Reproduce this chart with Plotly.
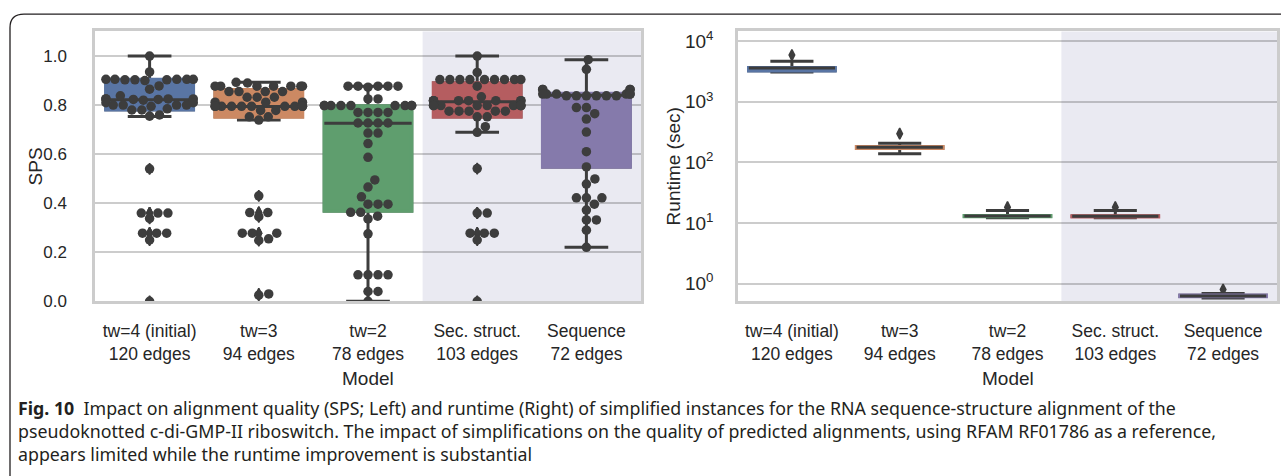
import numpy as np
import plotly.graph_objects as go

W, H = 1281, 476

# -------------------
# Data
# -------------------
models = ["tw=4 (initial)<br>120 edges", "tw=3<br>94 edges", "tw=2<br>78 edges",
          "Sec. struct.<br>103 edges", "Sequence<br>72 edges"]
box_colors = ["#5975a4", "#cc8963", "#5f9e6e", "#b55d60", "#857aab"]

sps_tw4 = [1.0, 0.935, 0.905, 0.905, 0.905, 0.905, 0.905, 0.903, 0.903, 0.903, 0.9,
           0.878, 0.865, 0.838, 0.825, 0.825, 0.825, 0.825, 0.823, 0.823, 0.82,
           0.81, 0.81, 0.80, 0.80, 0.80, 0.80, 0.795, 0.785, 0.78, 0.78, 0.76, 0.755,
           0.54, 0.36, 0.36, 0.36, 0.338, 0.278, 0.278, 0.278, 0.25, 0.0]
sps_tw3 = [0.893, 0.89, 0.877, 0.877, 0.877, 0.877, 0.877, 0.877, 0.877,
           0.855, 0.855, 0.855, 0.855, 0.832, 0.832, 0.832, 0.812, 0.812, 0.812,
           0.795, 0.795, 0.795, 0.795, 0.795, 0.795, 0.795, 0.795, 0.795, 0.795,
           0.778, 0.778, 0.752, 0.752, 0.739,
           0.43, 0.362, 0.362, 0.345, 0.278, 0.278, 0.278, 0.255, 0.248, 0.03, 0.025]
sps_tw2 = [0.877, 0.877, 0.877, 0.877, 0.877, 0.873, 0.825, 0.825,
           0.798, 0.798, 0.798, 0.798, 0.798, 0.798, 0.798, 0.798, 0.798,
           0.77, 0.77, 0.77, 0.77, 0.727, 0.727, 0.727, 0.727, 0.686, 0.686,
           0.643, 0.587, 0.495, 0.466, 0.426, 0.396, 0.396, 0.396, 0.363, 0.363,
           0.347, 0.336, 0.275, 0.108, 0.108, 0.108, 0.108, 0.04, 0.04, 0.0]
sps_sec = [1.0, 0.933, 0.904, 0.904, 0.904, 0.904, 0.904, 0.904, 0.904, 0.904, 0.904,
           0.877, 0.834, 0.818, 0.818, 0.818, 0.818, 0.818, 0.818, 0.818, 0.818,
           0.798, 0.798, 0.798, 0.798, 0.798, 0.798, 0.798, 0.798, 0.798,
           0.775, 0.775, 0.775, 0.775, 0.775, 0.752, 0.752, 0.712, 0.689,
           0.541, 0.36, 0.36, 0.278, 0.278, 0.278, 0.25, 0.0]
sps_seq = [0.985, 0.946, 0.864, 0.864, 0.864, 0.864,
           0.845, 0.845, 0.845, 0.845, 0.845, 0.845, 0.838, 0.838, 0.838, 0.838, 0.838, 0.838,
           0.79, 0.79, 0.765, 0.743, 0.69, 0.61, 0.548, 0.499, 0.478,
           0.422, 0.422, 0.422, 0.396, 0.372, 0.332, 0.332, 0.29, 0.22]
sps_values = [sps_tw4, sps_tw3, sps_tw2, sps_sec, sps_seq]

# box statistics as drawn (seaborn, whis=1.5)
sps_q1 = [0.781, 0.752, 0.368, 0.752, 0.548]
sps_median = [0.822, 0.794, 0.726, 0.814, 0.840]
sps_q3 = [0.904, 0.862, 0.796, 0.890, 0.847]
sps_lowfence = [0.753, 0.739, 0.0, 0.689, 0.22]
sps_highfence = [1.0, 0.893, 0.877, 1.0, 0.985]

rt_q1 = [3250, 172, 12.9, 12.8, 0.615]
rt_median = [3600, 178, 13.1, 13.0, 0.63]
rt_q3 = [3650, 181, 13.2, 13.1, 0.645]
rt_lowfence = [3100, 139, 12.2, 12.2, 0.58]
rt_highfence = [4650, 207, 16.2, 16.2, 0.69]
rt_outliers = [5900, 299, 18.3, 18.3, 0.80]

log_ticks = [1, 10, 100, 1000, 10000]
log_ticktext = ["10<sup>0</sup>", "10<sup>1</sup>", "10<sup>2</sup>",
                "10<sup>3</sup>", "10<sup>4</sup>"]

caption = ("<b>Fig. 10</b>&nbsp;&nbsp;Impact on alignment quality (SPS; Left) and runtime (Right) of simplified "
           "instances for the RNA sequence-structure alignment of the<br>pseudoknotted c-di-GMP-II "
           "riboswitch. The impact of simplifications on the quality of predicted alignments, using "
           "RFAM RF01786 as a reference,<br>appears limited while the runtime improvement is substantial")

# -------------------
# Geometry (pixels)
# -------------------
L_X0, L_X1 = 95, 641
R_X0, R_X1 = 738, 1277
P_TOP, P_BOT = 29.3, 306.7
SPS_RANGE = [0, 1.1]
RT_RANGE = [-0.29, 4.16]

DARK = "#3d3d3d"
GRID = "rgba(0,0,0,0.2)"
FRAME = "#cccccc"
SHADE = "#eaeaf2"
FONT = "Liberation Sans, Arial, sans-serif"


def beeswarm(values, px_x, px_y, d=10.0, half_width=0.4):
    vals = np.asarray(values, float)
    order = np.argsort(vals, kind="stable")
    placed = []
    offs = np.zeros(len(vals))
    for i in order:
        y = vals[i] * px_y
        near = [(px, py) for px, py in placed if abs(py - y) < d]
        cands = [0.0]
        for px, py in near:
            dx = np.sqrt(d * d - (py - y) ** 2)
            cands += [px + dx, px - dx]
        cands.sort(key=abs)
        x = next(c for c in cands
                 if all((c - px) ** 2 + (y - py) ** 2 >= d * d - 1e-6 for px, py in near))
        placed.append((x, y))
        offs[i] = np.clip(x / px_x, -half_width, half_width)
    return offs


def add_box(fig, i, q1, med, q3, lo, hi, color, xa, ya):
    common = dict(x=[i], width=0.8, whiskerwidth=0.5, boxpoints=False,
                  orientation="v", showlegend=False, hoverinfo="skip",
                  xaxis=xa, yaxis=ya)
    # dark whiskers + caps
    fig.add_trace(go.Box(q1=[q1], median=[med], q3=[q3], lowerfence=[lo], upperfence=[hi],
                         fillcolor="rgba(0,0,0,0)", line=dict(color=DARK, width=3), **common))
    # coloured body without dark outline
    fig.add_trace(go.Box(q1=[q1], median=[q3], q3=[q3], lowerfence=[q1], upperfence=[q3],
                         fillcolor=color, line=dict(color=color, width=3.6), **common))
    # median line
    fig.add_trace(go.Box(q1=[med], median=[med], q3=[med], lowerfence=[med], upperfence=[med],
                         fillcolor="rgba(0,0,0,0)", line=dict(color=DARK, width=3), **common))


fig = go.Figure()

# -------------------
# Left: SPS
# -------------------
px_x = (L_X1 - L_X0) / 5
px_y = (P_BOT - P_TOP) / (SPS_RANGE[1] - SPS_RANGE[0])

for i in range(5):
    add_box(fig, i, sps_q1[i], sps_median[i], sps_q3[i], sps_lowfence[i], sps_highfence[i],
            box_colors[i], "x", "y")

for i, vals in enumerate(sps_values):
    vals = np.asarray(vals)
    out = vals[(vals < sps_lowfence[i]) | (vals > sps_highfence[i])]
    fig.add_trace(go.Scatter(
        x=[i] * len(out), y=out, mode="markers",
        marker=dict(symbol="diamond-tall", size=8, color=DARK, line=dict(color=DARK, width=1.5)),
        showlegend=False, hoverinfo="skip", xaxis="x", yaxis="y"))

for i, vals in enumerate(sps_values):
    offs = beeswarm(vals, px_x, px_y)
    fig.add_trace(go.Scatter(
        x=i + offs, y=vals, mode="markers",
        marker=dict(size=9.5, color=DARK, line=dict(width=0)),
        showlegend=False, hoverinfo="skip", xaxis="x", yaxis="y"))

# -------------------
# Right: runtime
# -------------------
fig.add_trace(go.Scatter(
    x=list(range(5)), y=rt_outliers, mode="markers",
    marker=dict(symbol="diamond-tall", size=8, color=DARK, line=dict(color=DARK, width=1.5)),
    showlegend=False, hoverinfo="skip", xaxis="x2", yaxis="y2"))

for i in range(5):
    add_box(fig, i, rt_q1[i], rt_median[i], rt_q3[i], rt_lowfence[i], rt_highfence[i],
            box_colors[i], "x2", "y3")

# -------------------
# Axes
# -------------------
y_dom = [1 - P_BOT / H, 1 - P_TOP / H]
frame = dict(showline=True, mirror=True, linecolor=FRAME, linewidth=2.5)
xcommon = dict(range=[-0.5, 4.5], tickvals=list(range(5)), ticktext=models,
               ticks="outside", ticklen=12, tickcolor="rgba(0,0,0,0)",
               showgrid=False, zeroline=False,
               tickfont=dict(family=FONT, size=17.5, color="#262626"), **frame)

fig.update_layout(
    width=W, height=H,
    margin=dict(l=0, r=0, t=0, b=0),
    paper_bgcolor="white", plot_bgcolor="white",
    boxmode="overlay",
    xaxis=dict(domain=[L_X0 / W, L_X1 / W], anchor="y", **xcommon),
    yaxis=dict(domain=y_dom, anchor="x", range=SPS_RANGE, tickvals=[0, 0.2, 0.4, 0.6, 0.8, 1.0],
               tickformat=".1f", ticks="outside", ticklen=22, tickcolor="rgba(0,0,0,0)",
               showgrid=True, gridcolor=GRID, gridwidth=1.5, zeroline=False,
               tickfont=dict(family=FONT, size=17, color="#262626"), **frame),
    xaxis2=dict(domain=[R_X0 / W, R_X1 / W], anchor="y2", **xcommon),
    yaxis2=dict(domain=y_dom, anchor="x2", type="log", range=RT_RANGE,
                tickvals=log_ticks, ticktext=log_ticktext,
                ticks="outside", ticklen=18, tickcolor="rgba(0,0,0,0)",
                showgrid=True, gridcolor=GRID, gridwidth=1.5, zeroline=False,
                tickfont=dict(family=FONT, size=19, color="#262626"), **frame),
    yaxis3=dict(domain=y_dom, anchor="x2", overlaying="y2", type="log", range=RT_RANGE,
                visible=False, showgrid=False),
)

# shaded "simplified" region
for xr, yr in [("x", "y domain"), ("x2", "y2 domain")]:
    fig.add_shape(type="rect", xref=xr, yref=yr, x0=2.5, x1=4.5, y0=0, y1=1,
                  fillcolor=SHADE, line_width=0, layer="below")

# outer rounded frame
fx, fy, rad = 10 / W, 1 - 11.5 / H, 14
fig.add_shape(type="path", xref="paper", yref="paper",
              path=(f"M {fx},-0.1 L {fx},{fy - rad / H} Q {fx},{fy} {fx + rad / W},{fy} L 1.1,{fy}"),
              line=dict(color="#231f20", width=1.3))

# axis titles
title_font = dict(family=FONT, size=19, color="#262626")
ymid = 1 - (P_TOP + P_BOT) / 2 / H
for txt, xpx in [("SPS", 35), ("Runtime (sec)", 673)]:
    fig.add_annotation(text=txt, x=xpx / W, y=ymid, xref="paper", yref="paper",
                       xanchor="center", yanchor="middle",
                       textangle=-90, showarrow=False, font=title_font)
for x0, x1 in [(L_X0, L_X1), (R_X0, R_X1)]:
    fig.add_annotation(text="Model", x=(x0 + x1) / 2 / W, y=1 - 386 / H, xref="paper", yref="paper",
                       xanchor="center", yanchor="middle", showarrow=False, font=title_font)

# caption
fig.add_annotation(text=caption, x=16 / W, y=1 - 402 / H, xref="paper", yref="paper",
                   xanchor="left", yanchor="top", align="left", showarrow=False,
                   font=dict(family="Noto Sans, Open Sans, sans-serif", size=17.8, color="#231f20"))

page_js = (
    "document.documentElement.style.margin='0';document.body.style.margin='0';"
    "document.documentElement.style.overflow='hidden';document.body.style.overflow='hidden';"
)
fig.write_html("out.html", config={"displayModeBar": False}, post_script=page_js)
